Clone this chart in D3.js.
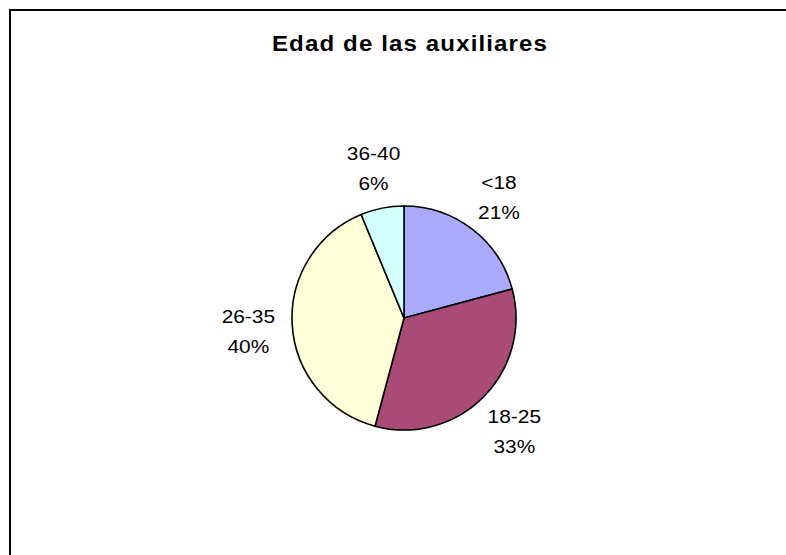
<!DOCTYPE html>
<html>
<head>
<meta charset="utf-8">
<script src="https://cdn.jsdelivr.net/npm/d3@7"></script>
<style>
  body { margin: 0; background: #fff; }
  svg { display: block; }
</style>
</head>
<body>
<svg id="svg1" width="786" height="555"></svg>
<script>
// data (counts, shown as percentages)
var categories = ["<18", "18-25", "26-35", "36-40"];
var counts = [10, 16, 19, 3];
var colors = ["#AAAAFF", "#AA4B77", "#FFFFD8", "#D4FFFF"];
var title = "Edad de las auxiliares";

var svg = d3.select("#svg1");
var width = +svg.attr("width"),
    height = +svg.attr("height");

var cx = 404, cy = 318, radius = 112;
var labelRadius = 156;
var stretch = 1.16; // the source font is drawn wider than Liberation Sans

// chart frame (runs off the right and bottom of the picture)
svg.append("rect")
    .attr("x", 10)
    .attr("y", 10)
    .attr("width", width + 50)
    .attr("height", height + 50)
    .attr("fill", "#fff")
    .attr("stroke", "#000")
    .attr("stroke-width", 2);

svg.append("text")
    .attr("transform", "translate(410,51) scale(1.12,1)")
    .attr("text-anchor", "middle")
    .attr("font-family", "Liberation Sans, Arial, sans-serif")
    .attr("font-weight", "bold")
    .attr("font-size", 21.5)
    .attr("letter-spacing", 1)
    .attr("fill", "#000")
    .text(title);

var data = categories.map(function(c, i) { return {cat: c, value: counts[i], color: colors[i]}; });
var total = d3.sum(counts);
var pct = d3.format(".0%");

var pie = d3.pie()
    .sort(null)
    .value(function(d) { return d.value; });

var arc = d3.arc()
    .innerRadius(0)
    .outerRadius(radius);

var labelArc = d3.arc()
    .innerRadius(labelRadius)
    .outerRadius(labelRadius);

var g = svg.append("g")
    .attr("transform", "translate(" + cx + "," + cy + ")");

var arcs = pie(data);

g.selectAll(".slice")
    .data(arcs)
  .enter().append("path")
    .attr("class", "slice")
    .attr("d", arc)
    .attr("fill", function(d) { return d.data.color; })
    .attr("stroke", "#000")
    .attr("stroke-width", 1.6)
    .attr("stroke-linejoin", "round");

var labels = g.selectAll(".label")
    .data(arcs)
  .enter().append("text")
    .attr("class", "label")
    .attr("text-anchor", "middle")
    .attr("font-family", "Liberation Sans, Arial, sans-serif")
    .attr("font-size", 18)
    .attr("fill", "#000")
    .attr("transform", function(d) {
      var c = labelArc.centroid(d);
      return "translate(" + c[0] + "," + c[1] + ") scale(" + stretch + ",1)";
    });

labels.append("tspan")
    .attr("x", 0)
    .attr("y", -5)
    .text(function(d) { return d.data.cat; });

labels.append("tspan")
    .attr("x", 0)
    .attr("y", 25)
    .text(function(d) { return pct(d.data.value / total); });
</script>
</body>
</html>
